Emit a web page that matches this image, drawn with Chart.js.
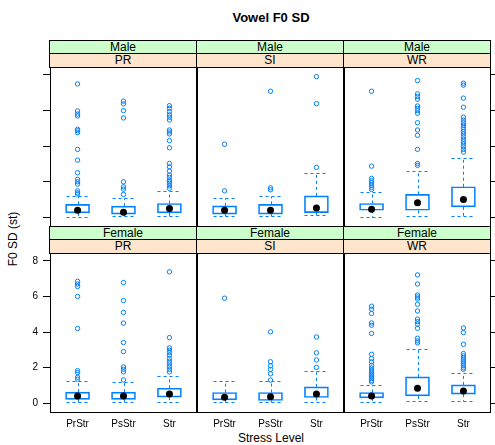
<!DOCTYPE html>
<html><head><meta charset="utf-8">
<script src="https://cdn.jsdelivr.net/npm/chart.js@4/dist/chart.umd.min.js"></script>
<style>
html,body{margin:0;padding:0;background:#fff;}
#wrap{position:relative;width:495px;height:445px;overflow:hidden;font-family:'Liberation Sans',Arial,sans-serif;color:#000;}
.strip{position:absolute;box-sizing:border-box;border:1px solid #000;text-align:center;font-size:12px;line-height:12px;}
canvas{position:absolute;}
.lbl{position:absolute;white-space:nowrap;}
</style></head><body><div id="wrap"></div>
<script>
// ---- data ----
const sexes = ['Male', 'Female'];
const tasks = ['PR', 'SI', 'WR'];
const stressLevels = ['PrStr', 'PsStr', 'Str'];
const yTicks = [0, 2, 4, 6, 8];
// panel order: Male PR, Male SI, Male WR, Female PR, Female SI, Female WR
const q1 = [
  [0.24, 0.17, 0.24], [0.17, 0.17, 0.26], [0.39, 0.39, 0.58],
  [0.22, 0.22, 0.34], [0.19, 0.15, 0.32], [0.30, 0.41, 0.51]
];
const medians = [
  [0.39, 0.28, 0.49], [0.39, 0.39, 0.52], [0.45, 0.81, 1.00],
  [0.41, 0.41, 0.52], [0.34, 0.37, 0.52], [0.41, 0.84, 0.69]
];
const q3 = [
  [0.72, 0.62, 0.77], [0.64, 0.72, 1.20], [0.77, 1.28, 1.71],
  [0.62, 0.62, 0.84], [0.60, 0.60, 0.92], [0.60, 1.48, 1.03]
];
const whiskLo = [
  [0.02, 0.06, 0.06], [0.06, 0.06, 0.11], [0.02, 0.06, 0.07],
  [0.06, 0.06, 0.06], [0.06, 0.06, 0.06], [0.06, 0.13, 0.13]
];
const whiskHi = [
  [1.20, 1.09, 1.48], [1.09, 1.20, 2.50], [1.39, 2.59, 3.31],
  [1.25, 1.18, 1.53], [1.25, 1.25, 1.82], [1.03, 3.02, 1.72]
];
const outliers = [
  [ // Male PR
    [7.49, 5.97, 5.80, 5.69, 4.94, 4.86, 4.75, 3.81, 3.21, 2.50, 2.13, 1.99, 1.86, 1.48, 1.37, 1.30],
    [6.52, 6.37, 5.99, 5.58, 1.99, 1.71, 1.58, 1.28],
    [6.27, 6.12, 5.93, 5.75, 5.62, 5.46, 4.90, 4.79, 4.68, 4.30, 3.90, 3.02, 2.83, 2.59, 2.37, 2.24, 2.08, 1.99, 1.90, 1.76, 1.62]
  ],
  [ // Male SI
    [4.10, 1.48],
    [7.08, 1.65, 1.54],
    [7.90, 6.38, 2.80]
  ],
  [ // Male WR
    [7.08, 2.87, 2.18, 2.05, 1.93, 1.80, 1.67, 1.56],
    [7.68, 6.93, 6.78, 6.63, 6.25, 6.12, 5.99, 5.84, 5.31, 4.90, 4.60, 3.81, 3.02, 2.91],
    [7.53, 7.42, 6.69, 6.18, 5.62, 5.46, 5.31, 5.17, 5.05, 4.94, 4.81, 4.68, 4.52, 4.38, 4.24, 4.11, 3.96, 3.81, 3.66]
  ],
  [ // Female PR
    [6.85, 6.70, 6.56, 6.00, 4.20, 1.83, 1.72, 1.46, 1.35],
    [6.78, 5.77, 5.10, 4.50, 3.41, 2.90, 2.04, 1.91, 1.76, 1.31],
    [7.38, 3.69, 3.11, 2.98, 2.85, 2.70, 2.51, 2.36, 2.21, 2.06, 1.91, 1.76]
  ],
  [ // Female SI
    [5.90],
    [4.01, 2.33, 2.10, 1.90, 1.65, 1.30],
    [3.72, 2.83, 2.43, 2.01]
  ],
  [ // Female WR
    [5.45, 5.28, 5.04, 4.51, 4.38, 3.92, 2.75, 2.51, 2.32, 2.13, 1.98, 1.85, 1.76, 1.67, 1.57, 1.48, 1.39, 1.29, 1.20],
    [7.21, 6.70, 6.08, 5.97, 5.86, 5.56, 5.18, 4.73, 4.58, 4.44, 4.21, 3.65, 3.50, 3.39],
    [4.23, 3.97, 3.31, 2.79, 2.66, 2.54, 2.43, 2.32, 2.21, 2.10, 1.99, 1.90]
  ]
];

// ---- layout / style ----
const BLUE = '#0080ff';
const FONT = "'Liberation Sans', Arial, sans-serif";
const colLeft = [50, 197, 344];
const colW = 147;
const rowTop = [67, 253];
const panelH = 160;
const leftAxisW = 50, rightAxisW = 5, bottomAxisH = 32;
const capHalf = 12;
const wrap = document.getElementById('wrap');

function addText(cls, text, css) {
  const d = document.createElement('div');
  d.className = cls; d.textContent = text;
  Object.assign(d.style, css);
  wrap.appendChild(d);
}

addText('lbl', 'Vowel F0 SD', {left: '271px', top: '17px', transform: 'translate(-50%,-50%)', fontWeight: 'bold', fontSize: '13px'});
addText('lbl', 'F0 SD (st)', {left: '13px', top: '239px', transform: 'translate(-50%,-50%) rotate(-90deg)', fontSize: '12px'});
addText('lbl', 'Stress Level', {left: '271px', top: '438px', transform: 'translate(-50%,-50%)', fontSize: '12px'});

const framePlugin = {
  id: 'frame',
  afterDraw(chart) {
    const {ctx, chartArea: a} = chart;
    ctx.save();
    ctx.strokeStyle = '#000'; ctx.lineWidth = 1;
    ctx.strokeRect(a.left + 0.5, a.top + 0.5, a.right - a.left - 1, a.bottom - a.top - 1);
    ctx.restore();
  }
};

const whiskerPlugin = {
  id: 'whiskers',
  beforeDatasetsDraw(chart, args, opts) {
    const p = opts.panel;
    const {ctx} = chart;
    const xs = chart.scales.x, ys = chart.scales.y;
    ctx.save();
    ctx.strokeStyle = BLUE; ctx.lineWidth = 1; ctx.setLineDash([3, 3]);
    stressLevels.forEach((_, i) => {
      const cx = Math.round(xs.getPixelForValue(i + 1)) + 0.5;
      const yHi = Math.round(ys.getPixelForValue(whiskHi[p][i])) + 0.5;
      const yLo = Math.round(ys.getPixelForValue(whiskLo[p][i])) + 0.5;
      const yQ1 = ys.getPixelForValue(q1[p][i]);
      const yQ3 = ys.getPixelForValue(q3[p][i]);
      ctx.beginPath();
      ctx.moveTo(cx, yQ3); ctx.lineTo(cx, yHi);
      ctx.moveTo(cx, yQ1); ctx.lineTo(cx, yLo);
      ctx.moveTo(cx - capHalf, yHi); ctx.lineTo(cx + capHalf, yHi);
      ctx.moveTo(cx - capHalf, yLo); ctx.lineTo(cx + capHalf, yLo);
      ctx.stroke();
    });
    ctx.restore();
  }
};

sexes.forEach((sex, r) => {
  tasks.forEach((task, c) => {
    const p = r * 3 + c;
    // strips
    addText('strip', sex, {left: (colLeft[c] - 1) + 'px', top: (rowTop[r] - 27) + 'px', width: (colW + 1) + 'px', height: '14px', background: '#ccffcc'});
    addText('strip', task, {left: (colLeft[c] - 1) + 'px', top: (rowTop[r] - 14) + 'px', width: (colW + 1) + 'px', height: '15px', background: '#ffe5cc'});

    const cv = document.createElement('canvas');
    const cLeft = c === 0 ? colLeft[c] - leftAxisW : colLeft[c];
    const cW = colW + (c === 0 ? leftAxisW : 0) + (c === 2 ? rightAxisW : 0);
    const cH = panelH + (r === 1 ? bottomAxisH : 0);
    cv.width = cW; cv.height = cH;
    cv.style.left = cLeft + 'px'; cv.style.top = rowTop[r] + 'px';
    cv.style.width = cW + 'px'; cv.style.height = cH + 'px';
    wrap.appendChild(cv);

    const outPts = [];
    outliers[p].forEach((arr, i) => arr.forEach(v => outPts.push({x: i + 1, y: v})));

    new Chart(cv, {
      type: 'bar',
      data: {
        datasets: [
          {type: 'scatter', order: 1, data: medians[p].map((v, i) => ({x: i + 1, y: v})),
           pointStyle: 'circle', pointRadius: 3.5, pointHoverRadius: 3.5, backgroundColor: '#000', borderColor: '#000', borderWidth: 0},
          {type: 'scatter', order: 2, data: outPts,
           pointStyle: 'circle', pointRadius: 2.2, pointHoverRadius: 2.2, backgroundColor: 'rgba(0,0,0,0)', borderColor: BLUE, borderWidth: 1},
          {type: 'bar', order: 3, data: q1[p].map((v, i) => ({x: i + 1, y: [v, q3[p][i]]})),
           backgroundColor: 'rgba(0,0,0,0)', borderColor: BLUE, borderWidth: 1, borderSkipped: false, barThickness: 24}
        ]
      },
      options: {
        responsive: false, maintainAspectRatio: false, animation: false,
        layout: {padding: 0, autoPadding: false},
        plugins: {legend: {display: false}, tooltip: {enabled: false}, whiskers: {panel: p}},
        scales: {
          x: {
            type: 'linear', min: 0.4, max: 3.6, offset: false, display: r === 1,
            afterBuildTicks: s => { s.ticks = stressLevels.map((_, i) => ({value: i + 1})); },
            afterFit: s => { s.height = r === 1 ? bottomAxisH : 0; s.paddingLeft = 0; s.paddingRight = 0; s.paddingTop = 0; s.paddingBottom = 0; },
            grid: {display: false, drawTicks: false}, border: {display: false},
            ticks: {autoSkip: false, maxRotation: 0, padding: 5, color: '#000',
                    font: {size: 10, family: FONT}, callback: v => stressLevels[v - 1]}
          },
          y: {
            type: 'linear', min: -0.55, max: 8.44, display: c !== 1,
            position: c === 2 ? 'right' : 'left',
            afterBuildTicks: s => { s.ticks = yTicks.map(v => ({value: v})); },
            afterFit: s => { s.width = c === 0 ? leftAxisW : (c === 2 ? rightAxisW : 0); s.paddingTop = 0; s.paddingBottom = 0; s.paddingLeft = 0; s.paddingRight = 0; },
            grid: {display: true, drawOnChartArea: false, drawTicks: true, tickLength: c === 0 ? 7 : 4, color: '#000'},
            border: {display: false},
            ticks: {padding: 5, color: '#000', font: {size: 10, family: FONT},
                    callback: v => (r === 1 && c === 0) ? String(v) : ''}
          }
        }
      },
      plugins: [whiskerPlugin, framePlugin]
    });
  });
});
</script></body></html>
